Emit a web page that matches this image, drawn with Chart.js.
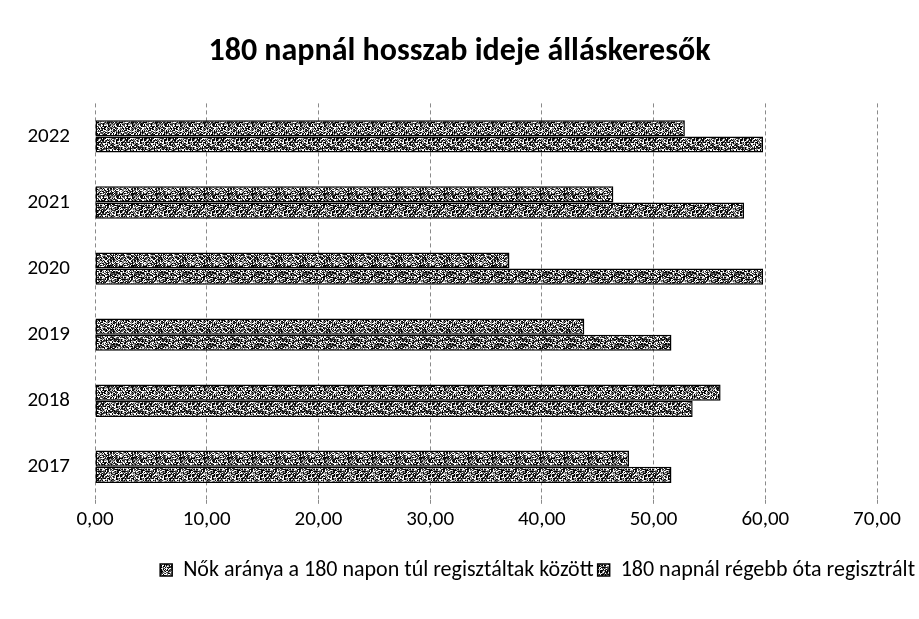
<!DOCTYPE html>
<html><head><meta charset="utf-8">
<script src="https://cdn.jsdelivr.net/npm/chart.js@4"></script>
<style>html,body{margin:0;padding:0;background:#fff}#wrap{width:919px;height:619px}</style>
</head><body><div id="wrap"><canvas id="c" width="919" height="619"></canvas></div>
<script>
const categories = ['2022','2021','2020','2019','2018','2017'];
const seriesNames = ['Nők aránya a 180 napon túl regisztáltak között','180 napnál régebb óta regisztrált'];
const womenShare = [52.8, 46.4, 37.1, 43.8, 56.0, 47.8];
const longTermShare = [59.8, 58.1, 59.8, 51.6, 53.5, 51.6];
const xTicks = [0,10,20,30,40,50,60,70];
const titleText = '180 napnál hosszab ideje álláskeresők';

// dithered gray texture (style only)
function makePattern(k){
  const n = 24;
  const c = document.createElement('canvas');
  c.width = n; c.height = n;
  const g = c.getContext('2d');
  const shades = ['#000000','#ffffff','#5a5a5a','#1e1e1e','#ffffff','#8a8a8a','#000000','#c8c8c8','#333333'];
  for (let y = 0; y < n; y++) for (let x = 0; x < n; x++) {
    let h = (x * 374761393 + y * 668265263 + k * 2246822519) >>> 0;
    h = ((h ^ (h >>> 13)) * 1274126177) >>> 0;
    g.fillStyle = shades[(h >>> 8) % shades.length];
    g.fillRect(x, y, 1, 1);
  }
  return g.createPattern(c, 'repeat');
}
const pA = makePattern(1);
const pB = makePattern(7);

const font = "Carlito, Lato, 'Open Sans', sans-serif";
new Chart(document.getElementById('c'), {
  type: 'bar',
  data: {
    labels: categories,
    datasets: [
      {label: seriesNames[0], data: womenShare, backgroundColor: pA, borderColor: '#000', borderWidth: 1.5, borderSkipped: false},
      {label: seriesNames[1], data: longTermShare, backgroundColor: pB, borderColor: '#000', borderWidth: 1.5, borderSkipped: false}
    ]
  },
  options: {
    indexAxis: 'y',
    responsive: false,
    animation: false,
    devicePixelRatio: 1,
    layout: {padding: {left: 0, right: 0, top: 0, bottom: 28}},
    datasets: {bar: {barPercentage: 1, categoryPercentage: 0.49}},
    plugins: {
      title: {display: true, text: titleText, color: '#000', font: {family: font, size: 32, weight: 'bold'}, padding: {top: 33, bottom: 32}},
      legend: {position: 'bottom', align: 'end', labels: {color: '#000', font: {family: font, size: 22}, boxWidth: 12, boxHeight: 12, padding: 4}},
      tooltip: {enabled: false}
    },
    scales: {
      x: {
        min: 0, max: 70,
        afterBuildTicks: s => { s.ticks = xTicks.map(v => ({value: v})); },
        afterFit: s => { s.height += 20; },
        ticks: {color: '#000', font: {family: font, size: 21}, padding: 3, callback: v => v.toFixed(2).replace('.', ',')},
        grid: {color: '#8a8a8a', lineWidth: 1, tickLength: 4, drawTicks: true},
        border: {display: false, dash: [4,3]}
      },
      y: {
        afterFit: s => { s.width = 95; },
        ticks: {color: '#000', font: {family: font, size: 21}, padding: 17},
        grid: {display: false},
        border: {display: false}
      },
      yRight: {
        type: 'category',
        position: 'right',
        afterFit: s => { s.width = 42; },
        ticks: {display: false},
        grid: {display: false, drawTicks: false},
        border: {display: false}
      }
    }
  }
});
</script></body></html>
